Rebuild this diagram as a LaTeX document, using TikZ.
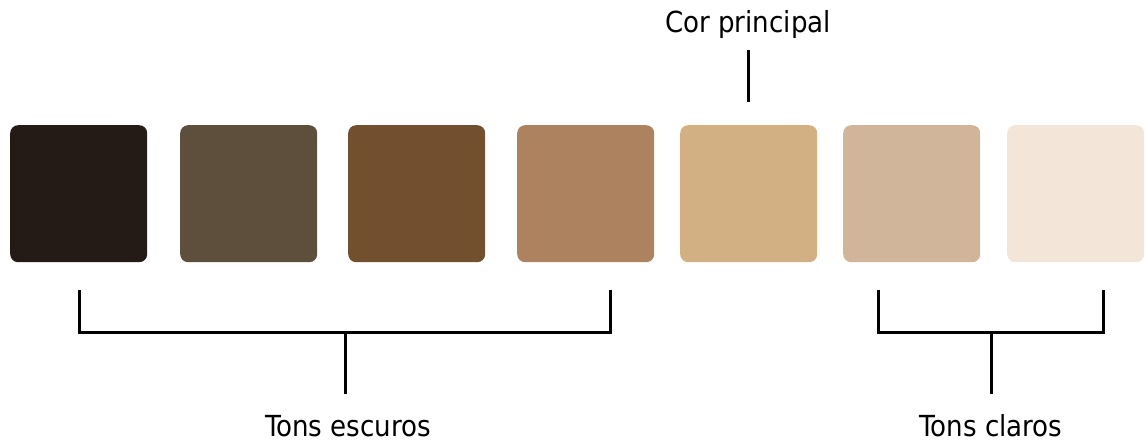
\documentclass[tikz,border=0pt]{standalone}
\usepackage{fontspec}
\setmainfont{DejaVu Sans Condensed}
\definecolor{c1}{HTML}{241B16}
\definecolor{c2}{HTML}{5E4F3D}
\definecolor{c3}{HTML}{714F2F}
\definecolor{c4}{HTML}{AC835E}
\definecolor{c5}{HTML}{D3AF84}
\definecolor{c6}{HTML}{D1B59A}
\definecolor{c7}{HTML}{F3E6D8}
\tikzset{
  swatch/.style={rounded corners=8pt, inner sep=0pt, minimum width=137pt, minimum height=137pt, anchor=north west},
  bracket/.style={line width=3pt, black},
  label/.style={font=\fontsize{29}{32}\selectfont, inner sep=0pt, anchor=base}
}
\begin{document}
\begin{tikzpicture}[x=1pt,y=-1pt]
\useasboundingbox (0,0) rectangle (1145,441);
% colour swatches, darkest to lightest
\node[swatch, fill=c1] (s1) at (10,125) {};
\node[swatch, fill=c2] (s2) at (180,125) {};
\node[swatch, fill=c3] (s3) at (348,125) {};
\node[swatch, fill=c4] (s4) at (517,125) {};
\node[swatch, fill=c5] (s5) at (680,125) {};
\node[swatch, fill=c6] (s6) at (843,125) {};
\node[swatch, fill=c7] (s7) at (1007,125) {};
% main colour label
\node[label] (cor) at (748,33) {Cor principal};
\coordinate (corA) at (748,50);
\coordinate (corB) at (748,102);
\draw[bracket] (corA) -- (corB);
% dark tones bracket
\coordinate (dL) at (79,290);
\coordinate (dR) at (610,290);
\coordinate (dM) at (345,332);
\coordinate (dS) at (345,394);
\draw[bracket] (dL) |- (dM) -| (dR);
\draw[bracket] (dM) -- (dS);
\node[label] (esc) at (348,436) {Tons escuros};
% light tones bracket
\coordinate (lL) at (878,290);
\coordinate (lR) at (1103,290);
\coordinate (lM) at (991,332);
\coordinate (lS) at (991,394);
\draw[bracket] (lL) |- (lM) -| (lR);
\draw[bracket] (lM) -- (lS);
\node[label] (cla) at (991,436) {Tons claros};
\end{tikzpicture}
\end{document}
